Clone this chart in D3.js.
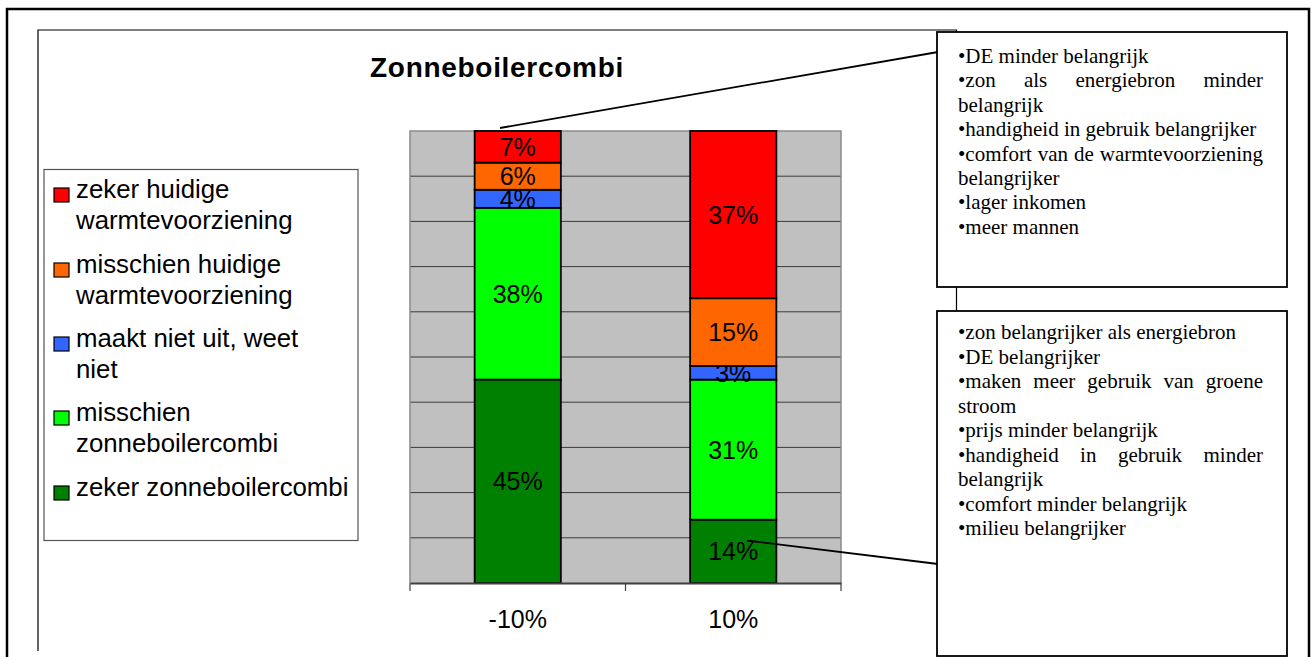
<!DOCTYPE html>
<html>
<head>
<meta charset="utf-8">
<script src="https://cdn.jsdelivr.net/npm/d3@7"></script>
<style>
  html, body { margin: 0; padding: 0; background: #fff; }
  svg { display: block; }
</style>
</head>
<body>
<svg id="chart" width="1314" height="657"></svg>
<script>
// ---- data ----
const categories = ["-10%", "10%"];
// stacking order, bottom to top
const seriesNames = [
  "zeker zonneboilercombi",
  "misschien zonneboilercombi",
  "maakt niet uit, weet niet",
  "misschien huidige warmtevoorziening",
  "zeker huidige warmtevoorziening"
];
const seriesColors = ["#008000", "#00FF00", "#3366FF", "#FF6600", "#FF0000"];
const valuesMinus10 = [45, 38, 4, 6, 7];
const valuesPlus10 = [14, 31, 3, 15, 37];
const yTicks = [0, 10, 20, 30, 40, 50, 60, 70, 80, 90, 100];

// legend entries, top to bottom, with their wrapped lines
const legendLines = [
  ["zeker huidige", "warmtevoorziening"],
  ["misschien huidige", "warmtevoorziening"],
  ["maakt niet uit, weet", "niet"],
  ["misschien", "zonneboilercombi"],
  ["zeker zonneboilercombi"]
];
const legendColors = ["#FF0000", "#FF6600", "#3366FF", "#00FF00", "#008000"];

// annotation boxes: [text, justified?]
const noteMinus10 = [
  ["•DE minder belangrijk", false],
  ["•zon als energiebron minder", true],
  ["belangrijk", false],
  ["•handigheid in gebruik belangrijker", false],
  ["•comfort van de warmtevoorziening", true],
  ["belangrijker", false],
  ["•lager inkomen", false],
  ["•meer mannen", false]
];
const notePlus10 = [
  ["•zon belangrijker als energiebron", false],
  ["•DE belangrijker", false],
  ["•maken meer gebruik van groene", true],
  ["stroom", false],
  ["•prijs minder belangrijk", false],
  ["•handigheid in gebruik minder", true],
  ["belangrijk", false],
  ["•comfort minder belangrijk", false],
  ["•milieu belangrijker", false]
];

const SANS = "'Liberation Sans', Arial, sans-serif";
const SERIF = "'Liberation Serif', 'Times New Roman', serif";

const svg = d3.select("#chart");

// ---- frames ----
svg.append("path")
  .attr("d", "M7,660 L7,9 L1309,9 L1309,660")
  .attr("fill", "none").attr("stroke", "#000").attr("stroke-width", 2.5);
svg.append("path")
  .attr("d", "M38,651 L38,30 L956.5,30 L956.5,320")
  .attr("fill", "none").attr("stroke", "#000").attr("stroke-width", 1.2);

// ---- title ----
svg.append("text")
  .attr("x", 497).attr("y", 77)
  .attr("text-anchor", "middle")
  .attr("font-family", SANS).attr("font-size", 28).attr("font-weight", "bold")
  .attr("letter-spacing", 0.7)
  .text("Zonneboilercombi");

// ---- plot ----
const plot = { left: 410, right: 841, top: 131, bottom: 583 };
const x = d3.scaleBand().domain(categories)
  .range([plot.left, plot.right]).paddingInner(0.6).paddingOuter(0.3);
const y = d3.scaleLinear().domain([0, 100]).range([plot.bottom, plot.top]);

svg.append("rect")
  .attr("x", plot.left).attr("y", plot.top)
  .attr("width", plot.right - plot.left).attr("height", plot.bottom - plot.top)
  .attr("fill", "#C0C0C0");

svg.append("g").selectAll("line").data(yTicks.slice(1, -1)).join("line")
  .attr("x1", plot.left).attr("x2", plot.right)
  .attr("y1", d => y(d)).attr("y2", d => y(d))
  .attr("stroke", "#3a3a3a").attr("stroke-width", 1);

svg.append("path")
  .attr("d", `M${plot.left},${plot.bottom} L${plot.left},${plot.top} L${plot.right},${plot.top} L${plot.right},${plot.bottom}`)
  .attr("fill", "none").attr("stroke", "#8a8a8a").attr("stroke-width", 1.5);

// stacked segments
const table = categories.map((c, i) => {
  const vals = i === 0 ? valuesMinus10 : valuesPlus10;
  const row = { category: c };
  seriesNames.forEach((s, k) => row[s] = vals[k]);
  return row;
});
const stacked = d3.stack().keys(seriesNames)(table);

const layers = svg.append("g").selectAll("g").data(stacked).join("g")
  .attr("fill", (d, i) => seriesColors[i]);

layers.selectAll("rect").data(d => d).join("rect")
  .attr("x", d => x(d.data.category))
  .attr("width", x.bandwidth())
  .attr("y", d => y(d[1]))
  .attr("height", d => y(d[0]) - y(d[1]))
  .attr("stroke", "#000").attr("stroke-width", 1.8);

layers.selectAll("text").data(d => d).join("text")
  .attr("x", d => x(d.data.category) + x.bandwidth() / 2)
  .attr("y", d => (y(d[0]) + y(d[1])) / 2 + 9)
  .attr("text-anchor", "middle")
  .attr("fill", "#000")
  .attr("font-family", SANS).attr("font-size", 25)
  .text(d => (d[1] - d[0]) + "%");

// category axis
const axis = d3.axisBottom(x).tickSize(0).tickPadding(0);
const axisG = svg.append("g").attr("transform", `translate(0,${plot.bottom})`).call(axis);
axisG.select(".domain").attr("stroke", "#404040").attr("stroke-width", 2);
axisG.selectAll(".tick text")
  .attr("y", 45).attr("dy", null)
  .attr("font-family", SANS).attr("font-size", 25).attr("fill", "#000");
const bounds = [plot.left].concat(categories.map(c => x(c) + x.bandwidth() + x.step() * x.paddingInner() / 2));
bounds[bounds.length - 1] = plot.right;
svg.append("g").selectAll("line").data(bounds).join("line")
  .attr("x1", d => d).attr("x2", d => d)
  .attr("y1", plot.bottom).attr("y2", plot.bottom + 8)
  .attr("stroke", "#404040").attr("stroke-width", 1.2);

// ---- legend ----
svg.append("rect")
  .attr("x", 44).attr("y", 169.5).attr("width", 314).attr("height", 371)
  .attr("fill", "#fff").attr("stroke", "#555").attr("stroke-width", 1.2);
const legendBase = [198, 273, 347, 421, 496];
const lg = svg.append("g").selectAll("g").data(legendLines).join("g")
  .attr("transform", (d, i) => `translate(0,${legendBase[i]})`);
lg.append("rect")
  .attr("x", 54).attr("y", -10).attr("width", 15).attr("height", 14)
  .attr("fill", (d, i) => legendColors[i]).attr("stroke", "#000").attr("stroke-width", 1.2);
lg.selectAll("text").data(d => d).join("text")
  .attr("x", 76).attr("y", (d, j) => j * 31)
  .attr("font-family", SANS).attr("font-size", 25.8)
  .text(d => d);

// ---- callouts ----
svg.append("line").attr("x1", 500).attr("y1", 128).attr("x2", 938).attr("y2", 52)
  .attr("stroke", "#000").attr("stroke-width", 1.8);
svg.append("path").attr("d", "M747,541 L751,541 L938,564")
  .attr("fill", "none").attr("stroke", "#000").attr("stroke-width", 1.8);

// ---- annotation boxes ----
function noteBox(bx, by, bw, bh, lines, firstBase, lineGap) {
  svg.append("rect").attr("x", bx).attr("y", by).attr("width", bw).attr("height", bh)
    .attr("fill", "#fff").attr("stroke", "#000").attr("stroke-width", 1.8);
  const left = bx + 21, right = bx + bw - 24;
  const g = svg.append("g").attr("font-family", SERIF).attr("font-size", 21).attr("fill", "#000");
  lines.forEach(([txt, justify], i) => {
    const yy = firstBase + i * lineGap;
    if (!justify) {
      g.append("text").attr("x", left).attr("y", yy).text(txt);
      return;
    }
    const words = txt.split(" ");
    const nodes = words.map(w => g.append("text").attr("y", yy).text(w));
    const widths = nodes.map(n => n.node().getComputedTextLength());
    const gap = (right - left - d3.sum(widths)) / (words.length - 1);
    let cx = left;
    nodes.forEach((n, k) => { n.attr("x", cx); cx += widths[k] + gap; });
  });
}
noteBox(937, 32, 350, 255, noteMinus10, 63, 24.4);
noteBox(937, 311, 350, 345, notePlus10, 339, 24.5);
</script>
</body>
</html>
